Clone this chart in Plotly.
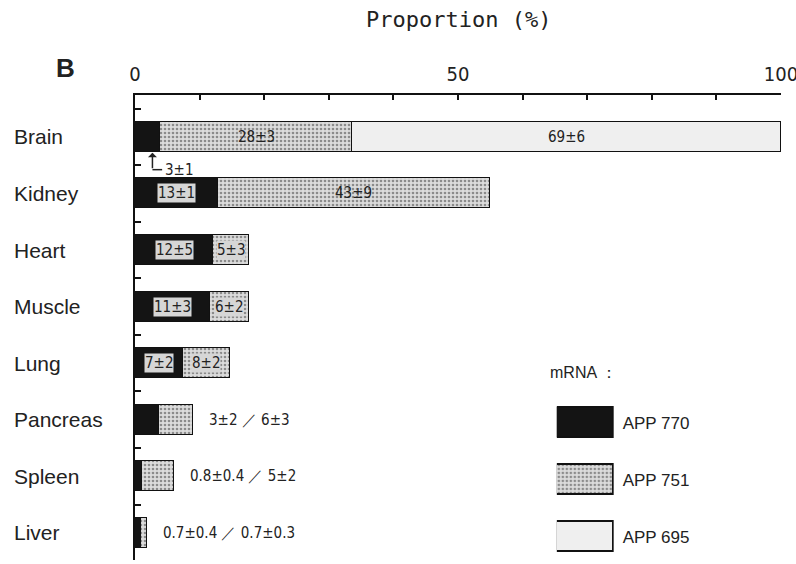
import plotly.graph_objects as go

tissues = ["Brain", "Kidney", "Heart", "Muscle", "Lung", "Pancreas", "Spleen", "Liver"]
app770 = [3.9, 12.8, 12.1, 11.6, 7.4, 3.7, 1.1, 0.9]
app751 = [29.7, 42.2, 5.5, 6.0, 7.3, 5.3, 4.9, 1.0]
app695 = [66.4, 0, 0, 0, 0, 0, 0, 0]
lab770 = ["3±1", "13±1", "12±5", "11±3", "7±2", "3±2", "0.8±0.4", "0.7±0.4"]
lab751 = ["28±3", "43±9", "5±3", "6±2", "8±2", "6±3", "5±2", "0.7±0.3"]
lab695 = ["69±6"]
legend_names = ["APP770", "APP751", "APP695"]
legend_labels = ["APP 770", "APP 751", "APP 695"]
legend_vals = [1, 1, 1]
x_ticks = [0, 50, 100]

NUMF = "DejaVu Sans Condensed, Liberation Sans Narrow, sans-serif"
LABF = "Liberation Sans, Arial, sans-serif"
C770 = "#141414"
PAT751 = dict(shape=".", size=4, solidity=0.35, fgcolor="#3a3a3a", bgcolor="#dcdcdc")
C695 = "#efefef"
LINE = dict(color="#111", width=1.5)
TXT = "#222"

fig = go.Figure()
fig.add_bar(y=tissues, x=app770, orientation="h", marker=dict(color=C770, line=LINE),
            width=0.53, showlegend=False)
fig.add_bar(y=tissues, x=app751, orientation="h",
            marker=dict(color="#dcdcdc", pattern=PAT751, line=LINE),
            width=0.53, showlegend=False)
fig.add_bar(y=tissues, x=app695, orientation="h", marker=dict(color=C695, line=LINE),
            width=0.53, showlegend=False)

# legend swatches on a small secondary axis
lcolors = [C770, "#dcdcdc", C695]
for i, name in enumerate(legend_names):
    m = dict(color=lcolors[i], line=LINE)
    if i == 1:
        m["pattern"] = PAT751
    fig.add_bar(y=[name], x=[legend_vals[i]], orientation="h", marker=m, width=0.53,
                xaxis="x2", yaxis="y2", showlegend=False)

ann = []
for i, t in enumerate(tissues):
    ann.append(dict(text=t, x=-0.191, xref="paper", y=t, yref="y", xanchor="left",
                    showarrow=False, font=dict(family=LABF, size=21, color=TXT)))

nf = dict(family=NUMF, size=15, color=TXT)
boxed = dict(bgcolor="#d6d6d6", borderpad=0)
for i, t in enumerate(tissues):
    a, b, c = app770[i], app751[i], app695[i]
    if i == 0:
        ann.append(dict(text=lab751[i], x=a + b / 2, y=t, showarrow=False, font=nf))
        ann.append(dict(text=lab695[0], x=a + b + c / 2, y=t, showarrow=False, font=nf))
        ann.append(dict(text="", x=2.7, y=0.28, ax=2.7, ay=0.58, axref="x", ayref="y",
                        showarrow=True, arrowhead=1, arrowsize=1, arrowwidth=1.5,
                        arrowcolor=TXT))
        ann.append(dict(text=lab770[i], x=4.4, y=0.58, xanchor="left", showarrow=False, font=nf))
    elif i == 1:
        ann.append(dict(text=lab770[i], x=a / 2, y=t, showarrow=False, font=nf, **boxed))
        ann.append(dict(text=lab751[i], x=a + b / 2, y=t, showarrow=False, font=nf))
    elif i <= 4:
        ann.append(dict(text=lab770[i], x=a / 2, y=t, showarrow=False, font=nf, **boxed))
        ann.append(dict(text=lab751[i], x=a + b / 2, y=t, showarrow=False, font=nf, **boxed))
    else:
        ann.append(dict(text=f"{lab770[i]} ／ {lab751[i]}", x=a + b, y=t, xanchor="left",
                        xshift=14, showarrow=False, font=nf))

ann.append(dict(text="Proportion (%)", x=0.5, xref="paper", y=1.163, yref="paper",
                xanchor="center", yanchor="middle", showarrow=False,
                font=dict(family="DejaVu Sans Mono, monospace", size=22, color=TXT)))
ann.append(dict(text="<b>B</b>", x=-0.108, xref="paper", y=1.058, yref="paper",
                xanchor="center", yanchor="middle", showarrow=False,
                font=dict(family=LABF, size=26, color=TXT)))
ann.append(dict(text="mRNA ：", x=0.640, xref="paper", y=0.403, yref="paper", xanchor="left",
                yanchor="middle", showarrow=False, font=dict(family=LABF, size=16, color=TXT)))

shapes = [dict(type="line", x0=2.7, x1=4.2, y0=0.58, y1=0.58, xref="x", yref="y",
               line=dict(color=TXT, width=1.5))]

fig.update_layout(
    width=796, height=564,
    margin=dict(l=135, r=15, t=95, b=4),
    plot_bgcolor="white", paper_bgcolor="white",
    barmode="stack", bargap=0,
    annotations=ann, shapes=shapes,
    xaxis=dict(range=[0, 100], side="top", tickvals=x_ticks, ticks="inside", ticklen=5,
               tickwidth=1.5, tickcolor="#111", showline=True, linecolor="#111", linewidth=2,
               showgrid=False, zeroline=False, ticklabeloverflow="allow", automargin=False,
               minor=dict(dtick=10, ticks="inside", ticklen=5, tickwidth=1.5, tickcolor="#111"),
               tickfont=dict(family=NUMF, size=20, color=TXT), ticklabelstandoff=4),
    yaxis=dict(categoryorder="array", categoryarray=tissues, range=[7.48, -0.74],
               showticklabels=False, ticks="inside", tickson="boundaries", ticklen=6,
               tickwidth=1.5, tickcolor="#111", showline=True, linecolor="#111", linewidth=2,
               showgrid=False, zeroline=False, automargin=False),
    xaxis2=dict(domain=[0.653, 0.741], range=[0, 1], anchor="y2", visible=False),
    yaxis2=dict(domain=[0, 0.355], anchor="x2", categoryorder="array",
                categoryarray=legend_names, tickvals=legend_names, ticktext=legend_labels,
                range=[2.40, -0.49], side="right", showline=False, showgrid=False,
                zeroline=False, ticks="", ticklabelstandoff=8, automargin=False,
                tickfont=dict(family=LABF, size=17, color=TXT)),
)
fig.write_html("out.html")
